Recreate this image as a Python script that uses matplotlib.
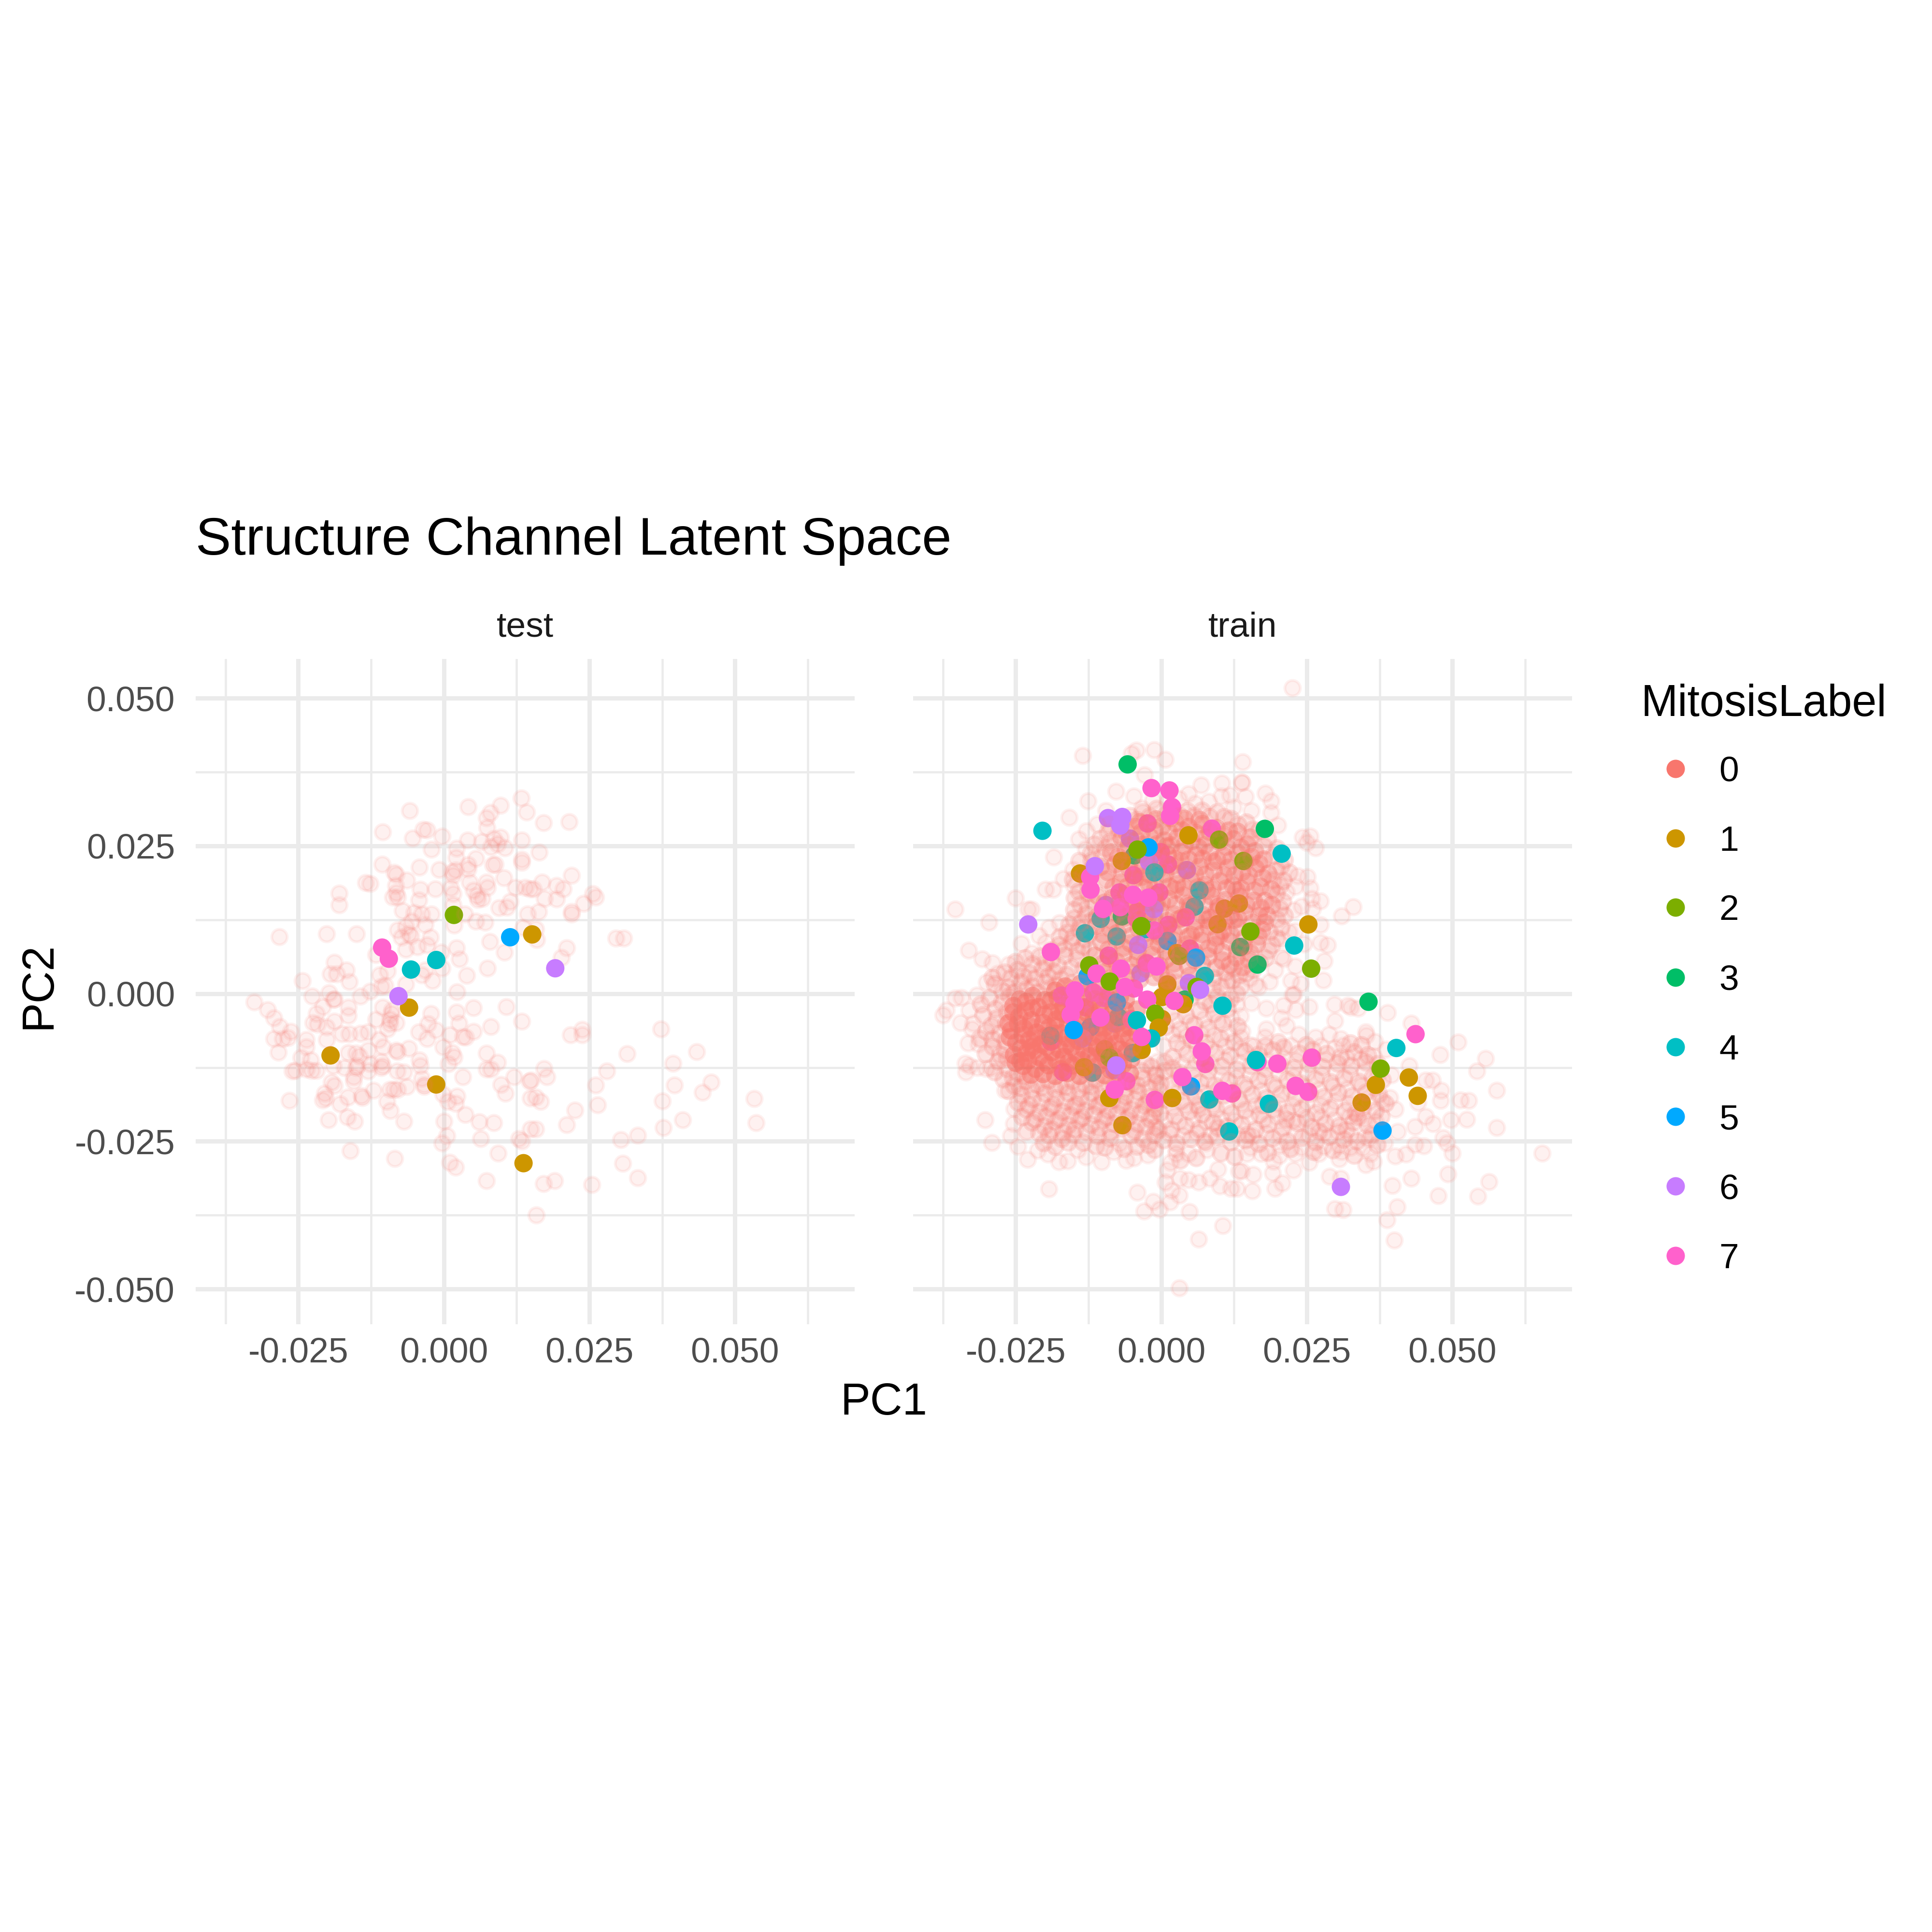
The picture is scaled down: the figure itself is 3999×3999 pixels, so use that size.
import numpy as np
import matplotlib
matplotlib.use("Agg")
import matplotlib.pyplot as plt
from matplotlib.lines import Line2D

plt.rcParams['font.family'] = ['Liberation Sans', 'DejaVu Sans']

# all PC values below are in thousandths
TEST_BACKGROUND = [
(-5.9,31.0),(4.2,31.6),(9.7,31.9),(13.3,33.1),(14.2,30.7),(8.0,30.6),(7.3,29.7),(7.4,28.1),(-10.5,27.4),(-3.5,27.8),(-2.9,27.7),(-5.4,26.3),(-0.3,26.6),(4.1,26.0),(6.5,25.7),(8.6,26.2),(9.7,26.5),(13.4,26.0),(-2.1,24.4),(2.2,24.6),(8.1,24.8),(9.2,25.3),(10.5,24.7),(2.1,23.0),(5.5,22.9),(13.4,22.7),(13.4,22.2),(-10.6,21.9),(-4.2,21.4),(-0.8,21.0),(1.4,20.6),(2.0,20.9),(4.2,21.1),(4.2,21.8),(8.4,21.8),(8.8,21.9),(-8.2,20.2),(-8.5,20.5),(-6.4,19.2),(1.6,20.0),(10.3,19.6),(-13.4,18.8),(-12.7,18.6),(-8.3,18.3),(-4.0,17.6),(-1.5,17.7),(1.2,17.9),(1.6,16.9),(4.4,18.9),(7.3,18.9),(7.5,18.0),(12.3,18.0),(14.0,18.0),(-18.0,17.0),(-8.2,17.1),(-8.8,16.3),(-7.9,16.3),(-4.3,15.8),(5.1,17.5),(5.7,16.6),(5.8,15.9),(6.6,16.1),(11.4,15.6),(9.5,14.5),(10.8,14.6),(-18.0,15.0),(-7.1,14.0),(-5.1,13.7),(-3.8,13.5),(-2.1,13.5),(1.6,15.0),(3.6,13.5),(5.5,12.2),(7.1,12.1),(14.4,13.5),(-6.5,11.3),(-7.9,10.8),(-5.5,12.2),(-3.2,11.7),(1.8,11.6),(-6.0,10.1),(-5.6,9.8),(-28.3,9.6),(-20.1,10.1),(-15.0,10.1),(-7.3,9.5),(-2.3,9.5),(13.6,11.2),(7.9,8.8),(-6.5,7.5),(-4.5,7.9),(-2.9,8.2),(-0.5,7.0),(2.2,7.7),(2.7,5.9),(10.4,7.0),(-11.7,6.6),(-18.8,5.3),(-16.7,4.0),(-19.5,3.3),(-18.4,3.3),(-0.3,4.3),(-3.2,4.0),(7.5,4.3),(-3.8,3.2),(-2.0,2.2),(3.9,3.1),(-11.0,3.2),(-9.7,3.8),(-16.2,2.0),(-24.3,2.2),(-10.8,1.2),(-10.1,1.4),(-6.5,1.6),(2.3,0.3),(-19.7,0.1),(-12.7,0.4),(-14.3,-0.4),(-22.6,-0.4),(-19.0,-1.0),(-32.6,-1.4),(-30.3,-2.7),
(5.1,-2.4),(2.2,-3.1),(10.7,-2.2),(-2.2,-3.4),(2.6,-5.0),(13.4,-4.7),(8.1,-5.6),(5.1,-6.4),(-16.4,-2.3),(-16.4,-3.7),(-20.8,-2.2),(-21.9,-3.4),(-29.2,-4.1),(-8.9,-2.8),(-9.0,-3.4),(-10.5,-2.3),(-18.8,-0.9),(-18.8,-4.7),(-22.5,-4.9),(-21.7,-5.2),(-20.1,-5.7),(-28.2,-5.6),(-26.3,-6.4),(-29.2,-7.6),(-26.8,-7.5),(-27.7,-7.6),(-23.6,-7.8),(-20.1,-7.8),(-23.6,-9.0),(-28.4,-9.9),(-17.5,-6.8),(-16.2,-6.8),(-14.3,-6.7),(-13.0,-6.5),(-11.7,-4.4),(-9.3,-4.4),(-9.3,-5.1),(-8.2,-4.9),(-9.7,-6.0),(-11.2,-7.8),(-4.3,-6.5),(-2.7,-5.1),(-1.4,-6.2),(-2.9,-7.6),(1.0,-7.0),(3.3,-7.3),(3.8,-7.4),(-0.1,-9.0),(1.4,-10.0),(7.3,-10.1),(9.2,-11.6),(7.3,-12.8),(8.1,-12.8),(0.8,-11.9),(1.8,-10.7),(-8.2,-9.6),(-7.9,-9.8),(-6.0,-9.3),(-10.4,-9.0),(-16.4,-10.0),(-15.1,-10.1),(-14.5,-10.6),(-13.0,-9.6),(-24.5,-10.8),(-22.9,-11.2),(-26.0,-13.1),(-25.5,-13.0),(-23.6,-12.8),(-22.7,-13.0),(-21.9,-13.0),(-19.0,-12.2),(-17.1,-12.5),(-15.1,-12.5),(-14.9,-12.2),(-12.7,-11.9),(-10.8,-11.5),(-10.8,-12.5),(-10.5,-12.2),(-13.0,-13.1),(-15.5,-14.1),(-15.5,-14.8),(-4.2,-11.2),(-4.0,-12.2),(-8.0,-13.1),(-6.9,-13.3),(-3.8,-14.3),(3.3,-14.1),(12.1,-14.1),(9.8,-15.4),(10.6,-16.9),(14.7,-14.8),(-19.3,-15.0),(-18.8,-15.6),(-3.4,-15.4),(-3.4,-15.7),(-12.1,-16.4),(-9.3,-16.2),(-8.6,-16.2),(-7.9,-16.2),(-6.4,-15.7),(-20.5,-16.9),(-20.8,-18.0),(-20.3,-17.7),(-16.5,-17.5),(-14.0,-17.6),(-14.2,-17.3),(-17.8,-18.7),(-9.8,-18.3),(-9.2,-19.8),(2.3,-17.4),(-0.1,-17.0),(0.7,-18.3),(2.0,-18.6),(3.7,-20.5),(-26.5,-18.1),(-19.8,-21.4),(-16.6,-20.9),(-15.3,-21.6),(-6.9,-21.6),(0.0,-21.6),(6.1,-21.7),(8.6,-21.9),(0.5,-24.1),(6.3,-24.6),(12.9,-24.6),(13.4,-25.0),(-0.3,-25.3),(9.3,-27.0),(-16.1,-26.6),(-8.4,-27.9),(1.0,-28.6),(2.0,-29.4),(7.3,-31.7),(14.9,-22.9),(14.9,-17.7),
(17.1,28.9),(21.5,29.1),(16.4,23.9),(21.9,20.0),(16.9,18.9),(15.4,17.7),(14.8,17.7),(19.4,18.3),(20.5,17.7),(19.4,16.0),(17.3,16.1),(16.3,13.9),(21.9,13.9),(21.9,13.5),(24.0,15.3),(25.6,16.9),(26.1,16.3),(15.8,10.9),(16.0,9.1),(21.1,7.7),(20.2,6.1),(29.6,9.4),(30.9,9.4),(21.8,-7.0),(23.8,-6.1),(23.8,-7.0),(37.3,-6.0),(31.5,-10.2),(39.4,-11.8),(43.4,-9.8),(17.2,-12.7),(17.7,-14.1),(15.0,-14.7),(28.0,-13.1),(26.1,-15.5),(45.9,-15.0),(44.4,-16.7),(39.6,-15.5),(15.8,-17.5),(16.6,-18.3),(26.4,-18.8),(37.5,-18.2),(53.3,-17.8),(22.5,-19.7),(21.1,-22.2),(15.8,-22.9),(37.7,-22.7),(41.0,-21.4),(53.6,-21.9),(30.4,-24.7),(33.3,-24.0),(30.7,-28.7),(33.3,-31.2),(17.1,-32.2),(19.0,-31.7),(25.4,-32.3),(15.9,-37.5),
]

# (PC1, PC2, label, depth under the faint cloud: 0 on top, 1 middle, 2 deep)
TEST_LABELLED = [
(1.73,13.32,2,1),(11.40,9.54,5,0),(15.18,10.02,1,0),(-10.6,7.79,7,0),(-9.45,5.91,7,0),(-1.31,5.69,4,0),(-5.64,4.07,4,0),(-7.79,-0.43,6,0),(-5.97,-2.37,1,1),(19.14,4.29,6,0),(-19.46,-10.46,1,1),(-1.31,-15.38,1,1),(13.69,-28.70,1,0),
]

TRAIN_SPARSE = [
(-13.5,40.3),(-5.1,40.6),(-4.3,41.2),(-1.2,41.3),(0.7,39.6),(-2.9,37.0),(-7.8,34.2),(-4.7,33.4),(-12.6,32.6),(4.7,33.8),(6.8,35.3),(10.4,35.6),(14.0,39.2),(13.8,35.8),(10.3,33.4),(11.8,33.6),(-15.8,29.8),(-18.5,23.1),(-35.4,14.3),(-29.6,12.1),(-25.0,16.2),(-19.9,17.6),(-18.6,17.6),(-22.9,14.3),(-22.3,14.3),(-33.1,7.3),(-30.8,5.9),(-24.0,8.5),(-19.9,8.6),(-22.2,6.8),(-31.7,-0.3),(-37.5,-3.6),(-36.9,-2.8),(-35.4,-0.8),(-34.3,-0.7),(-32.3,-5.0),(-32.5,-6.0),(-33.7,-11.8),(-32.9,-12.2),(-33.6,-13.3),(-31.4,-8.5),(-31.6,-12.5),(-30.1,-12.7),(-29.3,-12.5),(-26.9,-16.4),(-25.3,-19.5),(-30.3,-21.4),(-25.4,-22.0),(-25.9,-24.1),(-29.1,-25.2),(-23.0,-28.1),(-17.6,-28.5),(-16.1,-28.3),(-12.9,-27.7),(-10.3,-28.5),(-8.2,-26.8),(-4.7,-27.8),(-2.3,-27.3),(-19.3,-33.1),(-4.1,-33.6),(-1.4,-35.2),(-3.0,-36.8),(-0.3,-36.5),(1.5,-35.3),(4.8,-36.9),(10.6,-39.3),(6.4,-41.6),(3.1,-49.8),(1.0,-29.9),(1.6,-28.6),(3.2,-31.3),(4.7,-31.5),(6.4,-31.9),(0.7,-31.9),(1.8,-33.3),(3.1,-34.1),(8.3,-31.3),(10.1,-32.6),(12.0,-33.0),(9.7,-29.7),(13.3,-30.0),(7.7,-25.3),(4.7,-27.1),(2.5,-27.1),
(22.5,51.7),(13.9,35.7),(14.5,33.3),(17.9,33.9),(18.9,32.6),(18.9,30.6),(20.0,28.5),(24.3,26.5),(25.6,26.6),(25.0,25.6),(26.5,24.7),(23.4,19.9),(25.1,19.8),(25.6,17.9),(23.0,18.1),(27.3,15.7),(25.8,16.1),(24.1,14.8),(26.0,14.4),(22.8,14.1),(33.0,14.7),(31.0,13.1),(27.3,11.7),(27.3,8.6),(28.6,8.2),(24.5,8.4),(21.9,10.4),(23.0,10.6),(20.6,9.2),(28.0,5.5),(23.0,4.6),(27.8,2.3),(19.5,4.0),(22.3,2.2),(23.9,1.7),(22.5,-0.2),(20.6,6.2),(21.0,5.9),(18.6,2.0),(15.2,2.6),(16.2,1.5),(16.7,1.1),(21.5,17.2),
(29.7,-1.8),(32.1,-2.0),(32.6,-2.3),(33.8,-2.5),(38.9,-3.2),(29.8,-4.6),(42.9,-5.0),(51.0,-8.2),(47.9,-10.3),(55.7,-11.0),(54.2,-13.1),(57.6,-16.4),(45.4,-14.7),(46.6,-14.7),(48.1,-16.4),(48.0,-18.1),(51.4,-18.0),(52.8,-18.1),(44.1,-18.4),(45.4,-20.8),(46.7,-22.0),(49.7,-21.4),(52.5,-21.3),(57.6,-22.7),(43.6,-22.5),(48.4,-24.4),(49.1,-25.3),(50.0,-27.0),(45.1,-25.8),(43.6,-25.5),(42.0,-27.2),(40.2,-27.5),(65.4,-27.0),(49.2,-30.5),(56.3,-31.8),(42.9,-31.3),(39.7,-32.5),(47.6,-34.2),(54.4,-34.3),(40.5,-36.1),(38.8,-38.3),(40.0,-41.7),(29.8,-36.4),(31.2,-36.6),(28.9,-30.9),(30.8,-31.3),(35.1,-29.0),(36.5,-28.4),(36.0,-27.1),(35.6,-24.6),(32.5,-26.0),(30.6,-25.7),(30.6,-28.0),(27.1,-27.1),(25.4,-28.6),(22.7,-29.9),(19.3,-28.4),(19.1,-30.4),(15.8,-30.6),(20.8,-32.1),(19.5,-33.0),(15.6,-33.4),(13.8,-30.0),(13.0,-33.0),(23.0,-27.1),(20.4,-25.7),(17.1,-27.1),(14.7,-27.1),(38.4,-25.3),(40.6,-23.3),(40.2,-19.6),(39.3,-17.6),(39.5,-13.8),(42.6,-12.2),(38.6,-9.4),(35.2,-7.1),(35.1,-6.5),(36.7,-8.1),(30.8,-7.6),(28.8,-6.9),(26.5,-7.4),(23.6,-6.9),(18.0,-6.0),(17.8,-7.4),(13.6,-7.4),(15.2,-8.7),(21.5,-5.4),(23.1,-2.7),(25.4,-2.2),(18.0,-2.5),(15.5,-1.6),(13.6,-3.8),(20.6,-4.1),(21.0,-2.0),(13.0,-1.8),(22.8,-0.1),
(-9.5,31.0),(-11.0,28.7),(-12.8,27.5),(-14.2,26.1),(-13.0,24.5),(-15.2,21.0),(-16.8,19.4),(-15.0,18.2),(-17.5,12.0),(-19.3,11.2),(-21.0,9.8),(-26.2,5.0),(-28.1,3.4),(-30.0,1.9),(-29.0,5.2),(-33.0,-2.8),(-34.5,-4.9),(-33.2,-8.4),(-24.6,-25.9),(-21.2,-26.5),(-19.5,-27.2),(-14.3,-26.4),(-6.0,-28.2),(-7.2,-25.4),
(3.0,33.0),(5.8,32.2),(8.2,32.5),(12.4,31.5),(15.5,31.0),(1.0,32.5),(-1.5,32.8),(-3.4,31.4),
]

TRAIN_LOWER = [
(0.4,-24.8),(2.6,-25.3),(5.1,-24.6),(7.4,-25.0),(9.6,-24.2),(12.0,-25.1),(14.5,-24.8),(16.8,-25.4),(19.1,-24.5),(21.7,-25.0),(24.2,-24.4),(26.5,-25.1),(28.9,-24.2),(31.4,-24.7),(33.6,-25.0),(36.2,-23.8),(-1.0,-22.6),(1.7,-23.0),(4.2,-22.4),(6.5,-22.9),(8.9,-21.8),(11.3,-22.5),(13.8,-22.2),(16.2,-23.0),(18.4,-22.1),(20.9,-22.7),(23.4,-21.9),(25.8,-22.6),(28.2,-22.0),(30.6,-22.4),(33.0,-21.8),(35.5,-22.3),(37.8,-20.8),(-0.2,-20.2),(2.3,-20.7),(4.8,-19.9),(7.1,-20.4),(9.4,-19.6),(12.1,-20.3),(14.4,-19.7),(16.9,-20.5),(19.3,-19.6),(21.6,-20.1),(24.1,-19.5),(26.6,-20.2),(29.0,-19.4),(31.5,-19.9),(33.4,-20.2),(34.6,-19.4),(36.8,-19.8),(38.5,-18.6),(0.9,-17.9),(3.4,-18.2),(5.9,-17.4),(8.2,-18.0),(10.7,-17.2),(13.3,-17.9),(15.6,-17.1),(18.0,-17.7),(20.6,-17.0),(23.0,-17.6),(25.5,-16.9),(27.9,-17.5),(30.4,-16.8),(32.7,-17.4),(35.2,-16.7),(37.4,-17.0),(1.8,-15.4),(4.4,-15.8),(6.7,-15.1),(9.2,-15.6),(11.6,-14.8),(14.2,-15.3),(16.7,-14.7),(19.2,-15.3),(21.7,-14.6),(24.0,-15.2),(26.5,-14.5),(29.1,-15.0),(31.4,-14.3),(33.9,-14.9),(36.3,-14.2),(38.0,-14.6),(0.5,-13.1),(3.1,-13.4),(5.4,-12.8),(8.1,-13.0),(10.4,-12.3),(13.0,-12.9),(15.4,-12.2),(17.9,-12.7),(20.4,-12.0),(22.8,-12.6),(25.3,-11.9),(27.7,-12.4),(30.3,-11.8),(32.6,-12.2),(35.1,-11.6),(37.2,-11.9),(1.9,-10.7),(4.5,-10.2),(6.9,-10.8),(9.3,-10.0),(11.8,-10.5),(14.4,-9.8),(16.7,-10.3),(19.2,-9.6),(21.0,-9.1),(23.6,-10.1),(26.0,-9.5),(28.4,-10.2),(30.8,-10.7),(33.1,-9.9),(35.5,-10.4),(2.7,-8.3),(5.2,-7.8),(7.6,-8.4),(10.2,-7.6),(12.5,-8.2),(17.9,-8.9),(20.1,-8.2),(24.9,-8.7),(32.5,-8.4),(34.4,-8.7),
(0.8,-5.6),(3.2,-6.1),(5.7,-5.3),(8.0,-5.8),(10.6,-5.0),(13.1,-5.5),(1.6,-3.2),(4.3,-3.7),(6.6,-2.9),(9.1,-3.4),(11.4,-2.6),(-1.1,-26.4),(3.3,-28.2),(6.0,-27.8),(10.2,-27.0),(12.6,-27.6),(18.3,-26.9),(22.2,-26.3),(26.2,-26.8),(29.5,-26.5),(33.1,-27.4),(37.1,-25.6),
(9.7,-22.7),(33.8,-20.9),(21.4,-21.3),(24.9,-21.1),(27.1,-23.3),(14.8,-23.9),(31.8,-23.1),(6.3,-18.9),(17.4,-18.8),
]

TRAIN_LOWER_B = [
(1.5,-23.7),(3.7,-24.0),(6.1,-23.6),(8.4,-23.9),(10.7,-23.4),(13.1,-23.8),(15.6,-24.1),(18.0,-23.6),(20.4,-23.9),(23.0,-23.5),(25.3,-23.9),(27.9,-23.7),(30.3,-23.4),(32.6,-23.9),(35.0,-24.2),(0.6,-21.4),(3.0,-21.7),(5.5,-21.3),(7.7,-21.6),(10.3,-21.1),(12.6,-21.5),(15.1,-21.0),(17.5,-21.4),(19.9,-20.9),(22.6,-21.5),(27.4,-20.9),(29.7,-21.3),(32.3,-20.8),(34.9,-21.2),(36.8,-21.6),(2.0,-19.2),(-1.0,-18.7),(4.1,-18.9),(6.4,-19.5),(8.8,-18.8),(11.2,-19.1),(13.7,-18.6),(16.1,-18.9),(20.1,-18.7),(22.6,-19.0),(25.0,-18.4),(27.4,-18.9),(29.9,-18.3),(32.2,-18.7),(35.7,-18.3),(37.9,-18.0),(-0.1,-16.5),(2.6,-16.8),(5.1,-16.3),(7.4,-16.7),(9.9,-16.1),(12.3,-16.5),(14.7,-16.0),(17.2,-16.4),(19.7,-15.9),(22.2,-16.3),(24.7,-15.8),(27.1,-16.2),(29.5,-15.7),(31.9,-16.1),(34.4,-15.6),(36.8,-15.9),(-0.9,-14.0),(3.0,-14.4),(5.6,-14.1),(7.9,-14.5),(10.4,-13.9),(12.8,-14.2),(15.3,-13.7),(17.8,-14.1),(20.2,-13.5),(22.7,-14.0),(25.1,-13.4),(27.6,-13.8),(30.0,-13.2),(32.4,-13.6),(34.9,-13.1),(37.3,-13.5),(-0.6,-11.5),(3.4,-11.9),(6.0,-11.4),(8.4,-11.8),(10.9,-11.2),(13.4,-11.6),(15.9,-11.0),(18.4,-11.4),(20.9,-10.9),(23.2,-11.3),(25.8,-10.7),(28.2,-11.2),(31.9,-10.9),(34.2,-11.1),(36.5,-10.6),(0.4,-8.9),(3.6,-9.2),(6.1,-9.0),(8.4,-9.3),(11.0,-8.9),(13.6,-9.2),(15.9,-8.9),(22.3,-8.8),(27.4,-8.9),(29.8,-9.2),(31.2,-8.8),(1.9,-6.9),(4.3,-7.2),(6.8,-6.8),(9.0,-7.1),(11.6,-6.7),(13.9,-6.4),(-0.5,-4.6),(2.4,-4.5),(4.9,-4.8),(7.3,-4.3),(9.7,-4.6),(12.1,-4.1),
(2.5,-26.3),(7.8,-26.4),(15.3,-26.0),(20.3,-27.4),(24.1,-26.0),(27.9,-25.9),(31.0,-26.8),(34.6,-26.1),
]

TRAIN_WEST = [
(-29.5,-0.8),(-27.4,-1.5),(-30.6,-3.6),(-28.3,-4.2),(-26.5,-3.2),(-30.1,-6.4),(-27.8,-6.8),(-28.9,-9.0),(-26.9,-9.5),(-28.0,-11.5),(-26.4,-12.8),(-24.6,-13.4),(-27.1,-14.5),(-25.3,-15.6),(-23.2,-14.8),(-21.3,-15.4),(-19.4,-14.7),(-17.3,-15.6),(-15.2,-14.8),(-13.1,-15.5),(-11.2,-14.6),(-9.1,-15.3),(-7.0,-14.5),(-5.0,-15.2),(-3.1,-14.3),(-1.0,-15.1),(-24.0,-17.1),(-22.1,-17.8),(-20.0,-16.9),(-18.1,-17.7),(-16.0,-16.8),(-14.0,-17.6),(-12.0,-16.8),(-10.1,-17.5),(-8.1,-16.7),(-6.2,-17.4),(-4.0,-16.6),(-2.1,-17.5),(-23.2,-19.6),(-21.0,-20.1),(-19.1,-19.3),(-17.0,-20.0),(-15.1,-19.1),(-13.1,-19.8),(-11.0,-19.0),(-9.1,-19.7),(-7.0,-18.9),(-5.1,-19.6),(-3.0,-18.9),(-1.1,-19.5),(-22.2,-21.8),(-20.1,-22.5),(-18.2,-21.6),(-16.0,-22.3),(-14.1,-21.4),(-12.1,-22.2),(-10.0,-21.4),(-8.1,-22.0),(-6.0,-21.3),(-4.1,-22.0),(-2.0,-21.2),(-19.3,-24.0),(-17.1,-24.6),(-15.2,-23.8),(-10.9,-24.1),(-8.8,-24.5),(-5.1,-24.0),(-3.1,-24.6),(-1.2,-23.9),
(-28.6,1.6),(-26.3,1.0),(-24.2,1.9),(-22.1,1.2),(-20.0,2.0),(-18.1,1.4),(-26.9,3.6),(-24.7,4.0),(-22.6,3.4),(-20.4,4.2),(-18.4,3.7),(-16.3,3.2),(-23.4,6.0),(-20.9,6.3),(-18.8,5.8),(-16.6,6.4),(-14.5,5.9),(-17.6,8.2),(-15.4,8.7),(-13.5,8.0),(-16.2,10.3),(-14.1,10.9),(-12.4,10.1),(-15.0,12.7),(-13.0,13.4),(-13.9,15.1),(-11.9,15.8),(-14.2,17.3),(-12.6,18.4),(-13.6,20.2),(-11.8,21.3),(-10.2,23.2),(-12.1,23.7),(-8.8,25.7),(-10.4,26.2),(-7.2,27.9),(-8.9,28.6),(-5.4,30.1),(-3.2,30.7),(-0.8,31.3),(2.0,31.0),(4.5,30.9),(7.0,31.0),(9.6,30.7),(12.0,29.6),(14.6,29.0),(16.9,27.6),(18.3,26.2),(19.9,24.6),(21.2,22.6),(22.0,20.5),(19.8,20.9),(20.4,18.2),(20.9,15.6),(21.2,13.2),(20.6,11.2),(19.0,8.2),(17.9,6.0),(15.8,4.1),(13.4,3.1),(11.3,2.2),(9.0,2.6),(18.6,10.4),
(-1.7,-12.4),(0.6,-11.6),(-3.4,-13.1),(2.8,-1.1),(5.1,-0.6),(7.4,-1.3),(9.6,-0.4),(11.9,-0.9),(4.0,1.4),(6.4,2.0),(8.8,0.8),(11.0,3.6),(13.7,1.2),
]

TRAIN_WEST_B = [
(-31.0,-1.8),(-28.4,-2.6),(-26.1,-0.4),(-29.2,-5.4),(-26.7,-5.1),(-31.2,-7.6),(-29.0,-7.7),(-26.8,-8.0),(-30.2,-10.2),(-27.7,-10.3),(-26.5,-11.0),(-28.6,-13.3),(-25.5,-14.2),(-23.6,-13.9),(-26.2,-16.5),(-24.2,-15.9),(-22.3,-16.2),(-20.4,-15.8),(-18.3,-16.1),(-16.3,-15.7),(-14.2,-16.2),(-12.1,-15.6),(-10.2,-16.1),(-8.1,-15.6),(-6.1,-16.0),(-4.1,-15.5),(-2.1,-16.0),(-0.1,-15.2),(-24.6,-18.4),(-22.7,-18.9),(-20.6,-18.4),(-18.6,-18.9),(-16.5,-18.3),(-14.6,-18.8),(-12.5,-18.2),(-10.5,-18.7),(-8.5,-18.1),(-6.5,-18.6),(-4.5,-18.0),(-2.5,-18.5),(-0.6,-17.9),(-23.9,-20.9),(-21.7,-21.2),(-19.7,-20.8),(-17.6,-21.2),(-15.6,-20.6),(-13.6,-21.0),(-11.6,-20.5),(-9.5,-20.9),(-7.6,-20.3),(-5.5,-20.8),(-3.5,-20.2),(-1.5,-20.7),(-23.1,-23.3),(-21.0,-23.6),(-18.8,-23.0),(-16.8,-23.4),(-14.8,-22.9),(-12.8,-23.4),(-10.7,-22.8),(-8.7,-23.3),(-6.7,-22.7),(-4.6,-23.2),(-2.6,-22.6),(-0.5,-23.1),(-20.2,-25.3),(-18.2,-25.9),(-16.0,-25.2),(-13.4,-25.2),(-11.2,-25.8),(-9.7,-26.0),(-6.4,-26.3),(-4.2,-25.9),(-2.2,-25.6),
(-27.3,0.4),(-25.2,0.2),(-23.2,0.7),(-21.2,0.2),(-19.2,0.9),(-29.0,2.7),(-25.9,2.6),(-23.7,2.8),(-21.6,2.6),(-19.4,2.9),(-17.3,2.4),(-15.3,1.8),(-25.0,5.4),(-22.1,5.0),(-19.9,5.1),(-17.7,4.7),(-15.5,4.5),(-13.4,4.2),(-19.0,7.3),(-16.6,7.5),(-14.4,7.2),(-12.3,7.4),(-17.4,9.6),(-15.1,9.6),(-13.1,9.2),(-15.8,11.7),(-13.8,12.0),(-12.0,12.3),(-15.0,14.2),(-12.6,14.5),(-14.9,16.2),(-12.6,17.0),(-15.2,19.3),(-12.8,19.6),(-14.1,22.5),(-12.0,22.5),(-11.4,25.2),(-9.6,24.6),(-9.2,27.3),(-7.4,26.8),(-6.8,29.3),(-4.2,29.4),(-2.0,30.0),(0.8,30.2),(3.2,30.1),(5.7,30.1),(8.3,29.9),(10.8,29.9),(13.2,28.6),(15.7,27.8),(17.6,25.0),(19.2,23.3),(20.6,21.6),(21.0,19.1),(19.2,19.2),(19.8,16.9),(20.4,14.4),(19.9,12.6),(19.9,9.4),(18.4,7.3),(16.9,5.2),(14.6,3.5),(12.4,4.3),(10.2,1.2),
(-1.0,-13.7),(1.9,-12.6),(-2.6,-11.9),(0.7,0.4),(3.5,-0.1),(6.2,0.4),(8.5,-1.8),(10.7,-1.5),(13.0,0.0),(2.4,1.9),(7.6,2.9),(12.2,2.2),
]

TRAIN_UPPER = [
(-4.5,28.2),(-2.3,28.8),(0.1,28.3),(2.4,28.9),(4.7,28.2),(7.1,28.7),(9.5,28.0),(11.6,27.6),(-6.8,26.3),(-4.3,26.0),(-2.0,26.5),(0.5,25.9),(2.8,26.4),(5.2,25.8),(7.6,26.4),(10.0,25.7),(12.4,26.1),(14.8,25.2),(-8.6,23.9),(-6.1,24.2),(-3.7,23.6),(-1.3,24.1),(1.1,23.5),(3.5,24.0),(5.9,23.4),(8.3,23.9),(10.7,23.3),(13.1,23.8),(15.5,23.1),(17.6,22.7),(-10.4,21.5),(-7.9,21.9),(-5.5,21.2),(-3.1,21.7),(-0.6,21.0),(1.8,21.6),(4.2,20.9),(6.6,21.5),(9.0,20.8),(11.5,21.3),(13.9,20.6),(16.2,21.2),(18.4,20.3),(-9.5,19.3),(-7.0,18.8),(-4.6,19.4),(-2.2,18.7),(0.2,19.2),(2.7,18.5),(5.1,19.1),(7.5,18.4),(10.0,19.0),(12.3,18.3),(14.7,18.9),(17.0,18.1),(18.9,17.6),(-10.9,16.6),(-8.4,16.2),(-6.0,16.8),(-3.5,16.1),(-1.1,16.7),(1.3,16.0),(3.8,16.6),(6.1,15.9),(8.6,16.5),(11.0,15.8),(13.4,16.4),(15.9,15.7),(17.8,15.7),(19.0,15.0),(-10.0,14.1),(-7.5,13.6),(-5.1,14.2),(-2.6,13.5),(-0.2,14.1),(2.2,13.4),(4.7,14.0),(7.1,13.3),(9.5,13.9),(11.9,13.2),(14.3,13.8),(16.8,13.1),(18.2,13.2),(-11.2,11.5),(-8.8,11.1),(-6.3,11.7),(-3.9,11.0),(-1.5,11.6),(0.9,10.9),(3.3,11.5),(5.8,10.8),(8.2,11.4),(10.6,10.7),(13.1,11.2),(15.5,10.5),(17.3,10.8),(-10.3,8.7),(-7.7,9.1),(-5.3,8.5),(-2.8,9.2),(-0.4,8.4),(2.0,9.0),(4.4,8.3),(6.9,8.9),(9.3,8.2),(11.7,8.8),(14.2,8.0),(16.4,8.4),(-11.4,6.4),(-8.9,6.0),(-6.5,6.6),(-4.0,5.9),(-1.6,6.5),(0.8,5.8),(3.2,6.4),(5.7,5.7),(8.1,6.3),(10.5,5.6),(12.9,6.1),(15.1,5.7),(-9.9,3.6),(-7.4,4.1),(-5.0,3.5),(-2.5,4.2),(-0.1,3.4),(2.3,3.9),
(0.9,24.9),(6.4,24.7),(-1.9,22.6),(3.3,22.4),(8.9,22.3),(-4.4,20.4),(0.7,20.3),(5.8,20.2),(10.8,20.0),(-2.9,17.9),(2.4,17.6),(7.8,17.4),(12.9,17.5),(-0.8,15.3),(4.6,15.2),(9.8,15.1),(-4.2,15.0),(3.0,12.6),(7.9,12.5),(12.5,12.5),(-2.4,12.8),(0.1,10.0),(5.1,9.9),(10.0,9.8),
]

TRAIN_UPPER_B = [
(-3.4,27.3),(-1.2,27.6),(1.3,27.3),(3.6,27.6),(5.9,27.2),(8.3,27.4),(10.7,26.9),(-5.6,25.1),(-3.1,25.2),(-0.7,25.3),(1.7,25.1),(4.0,25.1),(7.5,25.1),(11.2,24.9),(13.7,24.7),(16.1,24.1),(-7.4,23.1),(-5.0,22.9),(-2.6,23.0),(-0.1,22.8),(2.3,22.8),(4.7,22.7),(7.1,22.8),(9.6,22.6),(12.0,22.6),(14.4,22.4),(16.8,22.0),(-9.2,20.6),(-6.7,20.4),(-2.0,20.2),(2.9,20.2),(7.6,20.1),(12.6,20.0),(15.0,20.0),(17.4,19.6),(-8.2,18.0),(-5.8,18.1),(-3.4,19.8),(-1.0,18.0),(1.4,18.1),(3.9,18.0),(6.3,18.0),(8.8,17.8),(11.2,17.8),(13.7,17.7),(16.0,17.4),(-9.7,15.4),(-7.2,15.2),(-4.8,15.7),(-2.3,15.4),(0.1,15.4),(2.5,15.1),(5.0,14.9),(7.4,15.1),(9.9,14.7),(12.2,15.0),(14.6,15.0),(17.1,14.5),(-11.0,13.0),(-8.6,12.5),(-6.2,12.9),(-3.8,12.4),(-1.3,12.9),(1.0,12.3),(3.5,12.8),(6.0,12.3),(8.4,12.8),(10.8,12.2),(13.2,12.7),(15.6,12.0),(17.8,12.0),(-10.0,10.0),(-7.5,10.3),(-5.1,9.8),(-2.7,10.3),(-0.3,9.7),(2.1,10.2),(4.6,9.6),(7.0,10.1),(9.4,9.5),(11.9,10.0),(14.3,9.4),(16.7,9.7),(-9.1,7.4),(-6.5,7.8),(-4.1,7.2),(-1.6,7.9),(0.8,7.2),(3.2,7.6),(5.7,7.1),(8.1,7.6),(10.5,7.0),(13.0,7.4),(15.3,6.9),(-10.2,5.0),(-7.7,5.4),(-5.2,4.8),(-2.8,5.3),(-0.3,4.7),(2.1,5.1),(4.6,4.6),(7.0,5.0),(9.4,4.4),(11.8,4.9),(14.0,4.5),(-8.6,2.6),(-6.1,2.9),(-3.7,2.4),(-1.3,2.8),(1.1,2.2),(4.9,3.0),(-0.9,29.5),(1.6,29.7),(4.0,29.6),(6.6,29.4),(-3.7,29.0),(-6.0,27.3),(13.1,27.4),(15.3,26.4),
]

TRAIN_CORE = [
(-25.4,-2.1),(-23.2,-1.4),(-21.1,-2.3),(-19.0,-1.2),(-16.8,-2.1),(-14.6,-1.3),(-12.5,-2.4),(-10.4,-1.4),(-8.2,-2.2),(-6.1,-1.1),(-24.4,-3.9),(-22.3,-4.5),(-20.1,-3.6),(-18.0,-4.4),(-15.9,-3.7),(-13.7,-4.6),(-11.6,-3.8),(-9.4,-4.5),(-7.3,-3.6),(-5.2,-4.3),(-25.8,-6.2),(-23.6,-5.9),(-21.4,-6.6),(-19.3,-5.8),(-17.2,-6.7),(-15.0,-5.9),(-12.9,-6.5),(-10.7,-5.7),(-8.6,-6.4),(-6.5,-5.8),(-24.9,-8.3),(-22.7,-7.9),(-20.6,-8.6),(-18.5,-7.9),(-16.3,-8.7),(-14.2,-8.0),(-12.0,-8.6),(-9.9,-7.9),(-7.8,-8.5),(-5.6,-7.7),(-25.3,-10.4),(-23.1,-10.0),(-21.0,-10.7),(-18.8,-9.9),(-16.7,-10.7),(-14.6,-10.1),(-12.4,-10.6),(-10.3,-10.0),(-8.1,-10.7),(-6.0,-9.8),(-23.7,-12.2),(-21.6,-12.7),(-19.4,-12.1),(-17.3,-12.8),(-15.1,-12.1),(-13.0,-12.8),(-10.9,-12.2),(-8.7,-12.9),(-6.6,-12.0),(-18.2,0.5),(-15.3,0.2),(-12.2,0.6),(-9.0,0.3),(-24.2,-11.4),(-22.3,-9.1),(-17.5,-3.0),(-13.3,-7.3),(-19.8,-7.2),(-11.0,-9.2),
]

TRAIN_CORE_B = [
(-24.3,-1.0),(-22.1,-0.4),(-20.0,-1.1),(-17.8,-0.7),(-15.7,-1.0),(-13.5,-0.6),(-11.4,-1.0),(-9.2,-0.8),(-7.1,-0.5),(-25.4,-3.2),(-23.3,-2.9),(-22.2,-2.5),(-19.0,-3.2),(-16.9,-3.3),(-14.8,-2.8),(-12.6,-3.4),(-10.5,-2.9),(-8.4,-3.4),(-6.2,-2.9),(-4.2,-2.7),(-26.2,-5.0),(-24.6,-5.1),(-22.4,-5.6),(-20.3,-5.0),(-18.2,-5.5),(-16.0,-5.0),(-13.9,-5.5),(-11.8,-5.1),(-9.6,-5.6),(-7.5,-5.0),(-5.4,-5.6),(-4.2,-6.7),(-26.0,-7.4),(-23.8,-7.0),(-21.7,-7.6),(-18.4,-6.8),(-16.2,-7.5),(-15.1,-7.1),(-11.9,-7.3),(-10.8,-6.9),(-8.8,-7.4),(-6.7,-6.9),(-24.1,-9.3),(-21.9,-9.6),(-19.7,-9.0),(-17.5,-9.4),(-15.4,-9.0),(-13.2,-9.5),(-9.2,-9.1),(-7.0,-9.5),(-4.9,-9.1),(-25.0,-11.7),(-22.9,-11.3),(-20.1,-11.6),(-18.0,-11.2),(-15.9,-11.7),(-13.7,-11.3),(-11.6,-11.6),(-9.5,-11.2),(-7.3,-11.6),(-5.2,-11.1),(-22.4,-13.7),(-20.3,-13.6),(-18.2,-13.9),(-16.1,-13.4),(-14.0,-13.9),(-11.8,-13.4),(-9.7,-13.8),(-7.6,-13.3),(-5.4,-13.5),(-16.5,1.2),(-13.8,1.7),(-10.6,1.2),
]

# (PC1, PC2, label, depth under the faint cloud: 0 on top, 1 middle, 2 deep)
TRAIN_LABELLED = [
(-5.78,38.80,3,0),(-1.67,34.79,7,0),(1.41,34.39,7,0),(1.85,31.57,7,1),(1.52,30.08,7,0),(-9.15,29.71,6,1),(-6.70,29.90,6,0),(-7.04,28.44,6,0),(-2.37,28.80,7,1),(-20.41,27.56,4,0),(8.70,27.92,7,1),(9.93,26.06,2,1),(4.67,26.79,1,0),(-5.37,26.24,6,2),(-4.63,23.40,3,2),(-2.19,24.75,5,0),(-0.07,23.94,7,2),(-4.07,24.38,2,0),(-6.78,22.45,1,1),(-2.07,22.23,6,1),(1.15,21.86,7,2),(-13.96,20.33,1,1),(-12.22,19.75,7,0),(-11.41,21.57,6,0),(-12.15,17.59,7,0),(-1.18,20.51,4,1),(4.41,20.91,6,2),(-4.78,20.04,7,2),(14.11,22.45,2,1),(6.56,17.48,4,2),(-7.18,17.12,7,2),(-4.85,16.72,7,0),(-2.22,16.24,7,0),(-0.33,17.12,7,2),(-9.48,15.0,6,2),(-10.00,14.34,7,0),(-7.04,14.63,7,1),(-1.26,14.31,6,1),(10.85,14.38,1,2),(13.33,15.25,1,2),(5.71,14.71,4,2),(-6.78,13.06,3,2),(-4.15,13.90,7,2),(4.19,12.92,7,2),(-10.41,12.66,4,2),(-4.22,12.63,7,2),(9.67,11.75,1,2),(1.22,11.64,7,2),(-2.67,10.91,4,1),(-3.44,11.42,2,0),(-1.18,10.69,7,1),(15.31,10.51,2,0),(13.57,7.88,3,2),(16.53,4.92,3,1),(-13.11,10.22,4,2),(-7.67,9.67,4,2),(1.08,8.90,5,2),(-3.96,8.25,6,1),(-18.96,7.04,7,0),(-22.85,11.71,6,0),(-9.04,6.42,7,2),(2.70,6.86,1,2),(4.93,7.63,7,2),(3.07,6.38,2,2),(5.98,6.09,5,1),(-2.48,5.14,7,1),(-0.81,4.59,7,0),(-12.37,4.78,2,0),(-12.67,2.95,5,1),(-6.93,4.23,7,0),(-11.11,3.39,7,0),(-3.56,3.43,6,2),(-8.85,2.04,2,0),(7.48,2.99,4,1),(-6.26,1.13,7,0),(-4.70,0.87,7,2),(1.04,1.56,1,2),(4.74,1.78,6,1),(6.07,1.13,2,0),(6.67,0.65,6,0),(10.52,-2.05,4,0),(-17.11,-0.33,7,1),(-14.81,0.54,7,0),(-11.63,0.19,7,1),(-9.89,-0.73,7,1),(-7.63,-1.49,5,1),(-2.41,-1.02,7,1),(0.11,-0.58,1,2),(4.0,-1.02,3,1),(3.78,-1.79,1,1),(2.26,-1.24,7,0),(-15.82,-0.84,7,1),(-14.9,-1.75,7,0),(-15.56,-3.57,7,0),(-13.04,-2.30,7,2),(-8.04,-5.03,6,2),(-5.07,-4.49,7,1),(-10.44,-4.05,7,0),(-7.37,-3.98,4,2),(-4.18,-4.52,4,0),(0.11,-4.30,1,2),(-1.04,-3.39,2,1),(-0.44,-5.77,1,1),(-12.19,-5.69,5,2),(-15.04,-6.17,5,0),(-18.96,-8.14,7,2),(-19.04,-7.15,4,2),(-13.48,-7.59,6,2),(-1.74,-7.59,4,1),(-3.33,-7.34,7,0),(-4.89,-10.07,4,2),(-3.37,-9.53,1,1),(-9.70,-9.42,1,2),(-8.89,-10.84,2,1),(-8.04,-12.9,6,2),(-7.74,-12.15,6,0),(-11.82,-13.36,4,2),(-13.26,-12.45,1,1),(-16.85,-13.29,7,2),(5.67,-7.04,7,1),(6.96,-9.78,7,0),(7.56,-11.90,7,1),(5.11,-15.70,5,2),(3.63,-14.13,7,0),(-5.99,-14.82,7,1),(-8.93,-17.67,1,0),(-8.0,-16.24,7,0),(-1.11,-17.99,7,1),(1.89,-17.67,1,1),(8.26,-17.92,4,2),(10.48,-16.46,7,0),(12.15,-16.90,7,1),(-6.67,-22.27,1,1),(11.67,-23.33,4,1),
(35.6,-1.38,3,0),(43.68,-6.86,7,0),(40.38,-9.20,4,0),(16.53,-11.6,7,1),(16.27,-11.24,4,0),(19.94,-11.86,7,1),(25.86,-10.84,7,1),(36.86,-15.44,1,0),(37.68,-12.70,2,0),(42.53,-14.20,1,0),(44.05,-17.30,1,0),(34.42,-18.43,1,2),(23.09,-15.62,7,1),(25.23,-16.61,7,1),(18.49,-18.65,4,1),(38.01,-23.18,5,1),(30.86,-32.71,6,1),(17.79,27.89,3,0),(20.68,23.69,4,0),(25.27,11.71,1,0),(22.83,8.14,4,0),(25.75,4.23,2,0),
]

LABELS = ['0', '1', '2', '3', '4', '5', '6', '7']
PALETTE = ['#F8766D', '#CD9600', '#7CAE00', '#00BE67', '#00BFC4', '#00A9FF', '#C77CFF', '#FF61CC']
X_MAJOR = [-0.025, 0.0, 0.025, 0.05]
X_MINOR = [-0.0375, -0.0125, 0.0125, 0.0375, 0.0625]
Y_MAJOR = [-0.05, -0.025, 0.0, 0.025, 0.05]
Y_MINOR = [-0.0375, -0.0125, 0.0125, 0.0375]
X_TICKLABELS = ['-0.025', '0.000', '0.025', '0.050']
Y_TICKLABELS = ['-0.050', '-0.025', '0.000', '0.025', '0.050']

W = H = 3999
DPI = 300
fig = plt.figure(figsize=(W / DPI, H / DPI), dpi=DPI, facecolor='white')
px = 72 / DPI


def fx(v):
    return v / W


def fy(v):
    return 1 - v / H


def panel(left, title, ringed, stacked, labelled, show_y):
    right = left + 1364
    ax = fig.add_axes([fx(left), fy(2741), (right - left) / W, (2741 - 1364) / H])
    ax.set_xlim(-0.04263, 0.07057)
    ax.set_ylim(-0.05596, 0.05664)
    ax.set_xticks(X_MAJOR)
    ax.set_xticks(X_MINOR, minor=True)
    ax.set_yticks(Y_MAJOR)
    ax.set_yticks(Y_MINOR, minor=True)
    ax.set_xticklabels(X_TICKLABELS)
    ax.set_yticklabels(Y_TICKLABELS if show_y else [])
    ax.grid(which='major', color='#EBEBEB', lw=9 * px)
    ax.grid(which='minor', color='#EBEBEB', lw=4.5 * px)
    ax.set_axisbelow(True)
    for s in ax.spines.values():
        s.set_visible(False)
    ax.tick_params(which='both', length=0)
    ax.tick_params(axis='x', which='major', labelsize=17.6, labelcolor='#4D4D4D', pad=26 * px)
    ax.tick_params(axis='y', which='major', labelsize=17.6, labelcolor='#4D4D4D', pad=43 * px)
    ax.set_title(title, fontsize=17.6, color='#1A1A1A', pad=46 * px)

    pts = np.array(ringed, dtype=float) / 1000
    extra = np.array(stacked, dtype=float).reshape(-1, 2) / 1000
    rgba = matplotlib.colors.to_rgba(PALETTE[0], 0.1)
    lab = np.array(labelled, dtype=float)
    kw = dict(s=(32 * px) ** 2, linewidths=6 * px, marker='o')
    z = 3
    for depth, stride in ((2, 0), (1, 1), (0, 2)):
        if len(extra):
            sub = extra[np.arange(len(extra)) % 3 == stride]
            ax.scatter(sub[:, 0], sub[:, 1], facecolors=[rgba], edgecolors='none', s=(38 * px) ** 2,
                       linewidths=0, zorder=z)
        z += 1
        sub = pts[np.arange(len(pts)) % 3 == stride]
        ax.scatter(sub[:, 0], sub[:, 1], facecolors=[rgba], edgecolors=[rgba], zorder=z, **kw)
        z += 1
        chosen = lab[lab[:, 3] == depth]
        if len(chosen):
            cols = [PALETTE[int(k)] for k in chosen[:, 2]]
            ax.scatter(chosen[:, 0] / 1000, chosen[:, 1] / 1000, facecolors=cols, edgecolors=cols, zorder=z, **kw)
        z += 1
    return ax


lower = TRAIN_LOWER + TRAIN_LOWER_B
west = TRAIN_WEST + TRAIN_WEST_B
upper = TRAIN_UPPER + TRAIN_UPPER_B
core = TRAIN_CORE + TRAIN_CORE_B
train_ringed = TRAIN_SPARSE + lower + west + upper + core
train_stacked = TRAIN_LOWER + west + upper * 3 + core * 6

panel(405, 'test', TEST_BACKGROUND, [], TEST_LABELLED, True)
panel(1890, 'train', train_ringed, train_stacked, TRAIN_LABELLED, False)

fig.text(fx(405), fy(1148), 'Structure Channel Latent Space', fontsize=26.4, color='black', ha='left', va='baseline')
fig.text(fx(1829), fy(2904), 'PC1', fontsize=22.2, color='black', ha='center', va='center')
fig.text(fx(80), fy(2040), 'PC2', fontsize=22.2, color='black', ha='center', va='center', rotation=90)

fig.text(fx(3396), fy(1482), 'MitosisLabel', fontsize=22.0, color='black', ha='left', va='baseline')
key_y = [1590.6, 1735, 1878, 2022.6, 2167, 2311, 2455, 2599]
for lbl, col, yy in zip(LABELS, PALETTE, key_y):
    fig.add_artist(Line2D([fx(3468)], [fy(yy)], marker='o', ms=38 * px, mfc=col, mec=col, mew=0,
                          ls='none', transform=fig.transFigure))
    fig.text(fx(3558), fy(yy), lbl, fontsize=17.6, color='black', ha='left', va='center_baseline')

fig.savefig('out.png', dpi=DPI, facecolor='white')
